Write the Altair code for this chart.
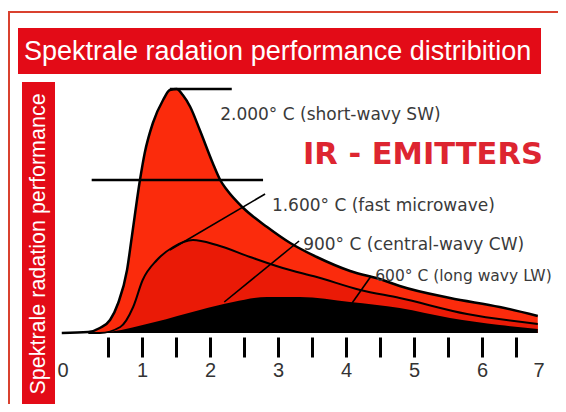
import altair as alt
import pandas as pd

# ---- data (wavelength in µm, relative spectral radiation performance) ----
sw_x = [-0.18, 0.21, 0.38, 0.53, 0.65, 0.78, 0.85, 0.97, 1.04, 1.16, 1.31, 1.41, 1.51, 1.60,
        1.71, 1.85, 2.04, 2.15, 2.25, 2.49, 2.84, 3.18, 3.57, 4.06, 4.54, 4.79, 5.53, 6.26, 6.82]
sw_y = [0, 0.4, 2.0, 5.2, 12, 25.2, 38.4, 61.2, 72, 84, 93.2, 97.2, 97.6, 95.2,
        90.4, 81.2, 68, 61.2, 57.2, 50, 42.4, 36, 30.4, 24.8, 21.2, 18.8, 14, 10.4, 6.8]

mw_x = [0.21, 0.38, 0.68, 0.87, 1.01, 1.22, 1.46, 1.75, 2.10, 2.59, 3.07, 3.57, 4.21, 4.79, 5.78, 6.82]
mw_y = [0, 0, 2.4, 10.4, 21.2, 29.2, 34.4, 37.2, 35.2, 30.4, 26, 22.4, 17.2, 14, 7.6, 3.6]

lw_x = [0.24, 0.53, 1.19, 1.85, 2.34, 2.84, 3.32, 4.06, 4.79, 5.53, 6.26, 6.82]
lw_y = [0, 0.5, 4.4, 9.2, 12.4, 14.4, 14.4, 12.4, 10, 6, 3.2, 1.6]

# horizontal guide lines (peak and width marker): x1, x2, y
hline_x1 = [1.41, 0.26]
hline_x2 = [2.32, 2.78]
hline_y = [97.6, 61.2]

# leader lines from the labels to the curves: x1, y1, x2, y2
leader_x1 = [2.81, 3.31, 4.37]
leader_y1 = [55.6, 36.8, 22.8]
leader_x2 = [1.41, 2.21, 4.09]
leader_y2 = [33.2, 12.4, 12.0]

label_text = ["2.000° C (short-wavy SW)", "1.600° C (fast microwave)",
              "900° C (central-wavy CW)"]
label_x = [2.15, 2.91, 3.37]
label_y = [87.2, 50.8, 35.2]

lw_label_text = ["600° C (long wavy LW)"]
lw_label_x = [4.43]
lw_label_y = [22.8]

tick_values = [i * 0.5 for i in range(15)]

title_txt = "Spektrale radation performance distribition"
ylabel_txt = "Spektrale radation performance"
emitters_txt = "IR - EMITTERS"

RED = "#e30b17"

xscale = alt.Scale(domain=[-0.9706, 7.1176], nice=False, zero=False)
yscale = alt.Scale(domain=[0, 130], nice=False, zero=True)

xaxis = alt.Axis(
    values=tick_values, domain=False, grid=False, offset=4, tickSize=20, tickWidth=3,
    tickColor="black",
    tickOpacity={"condition": {"test": "datum.value == 0 || datum.value == 7", "value": 0}, "value": 1},
    labelExpr="datum.value % 1 === 0 ? format(datum.value, 'd') : ''",
    labelFont="Liberation Sans", labelFontSize=20, labelColor="#333333", labelPadding=3,
    labelOffset={"condition": {"test": "datum.value == 0 || datum.value == 7", "value": -11.5}, "value": 0},
    labelOverlap=False, title=None,
)


def X(field="x"):
    return alt.X(f"{field}:Q", scale=xscale, axis=xaxis)


def Y(field="y"):
    return alt.Y(f"{field}:Q", scale=yscale, axis=None)


one = pd.DataFrame({"k": [0]})

frame_top = alt.Chart(one).mark_rule(color="#d9412f", strokeWidth=2).encode(
    x=alt.value(0), x2=alt.value(550), y=alt.value(4))
frame_left = alt.Chart(one).mark_rule(color="#d9412f", strokeWidth=2).encode(
    x=alt.value(1), y=alt.value(4), y2=alt.value(396))
title_rect = alt.Chart(one).mark_rect(color=RED).encode(
    x=alt.value(10), x2=alt.value(533), y=alt.value(20), y2=alt.value(66))
title_text = alt.Chart(one).mark_text(
    text=title_txt, align="left", baseline="alphabetic", font="Liberation Sans",
    fontSize=27, color="white").encode(x=alt.value(16), y=alt.value(52))
ylab_rect = alt.Chart(one).mark_rect(color=RED).encode(
    x=alt.value(14), x2=alt.value(47), y=alt.value(74), y2=alt.value(397))
ylab_text = alt.Chart(one).mark_text(
    text=ylabel_txt, angle=270, align="center", baseline="middle", font="Liberation Sans",
    fontSize=21.5, color="white").encode(x=alt.value(30.5), y=alt.value(236))

sw = alt.Chart(pd.DataFrame({"x": sw_x, "y": sw_y})).mark_area(
    color="#fb2b0c", opacity=1, fillOpacity=1, interpolate="monotone",
    line={"color": "black", "strokeWidth": 2.5}).encode(x=X(), y=Y())
mw = alt.Chart(pd.DataFrame({"x": mw_x, "y": mw_y})).mark_area(
    color="#ea1a06", opacity=1, fillOpacity=1, interpolate="monotone",
    line={"color": "black", "strokeWidth": 2}).encode(x=X(), y=Y())
lw = alt.Chart(pd.DataFrame({"x": lw_x, "y": lw_y})).mark_area(
    color="black", opacity=1, fillOpacity=1, interpolate="monotone").encode(x=X(), y=Y())

hlines = alt.Chart(pd.DataFrame({"x": hline_x1, "x2": hline_x2, "y": hline_y})).mark_rule(
    color="black", strokeWidth=2.5).encode(x=X(), x2="x2:Q", y=Y())

leaders = alt.Chart(pd.DataFrame({"x": leader_x1, "y": leader_y1, "x2": leader_x2,
                                  "y2": leader_y2})).mark_rule(color="black", strokeWidth=1.6).encode(
    x=X(), y=Y(), x2="x2:Q", y2="y2:Q")

labels = alt.Chart(pd.DataFrame({"x": label_x, "y": label_y, "t": label_text})).mark_text(
    align="left", baseline="middle", font="DejaVu Sans", fontSize=17, color="#3a3a3a"
).encode(x=X(), y=Y(), text="t:N")

lw_label = alt.Chart(pd.DataFrame({"x": lw_label_x, "y": lw_label_y, "t": lw_label_text})).mark_text(
    align="left", baseline="middle", font="DejaVu Sans", fontSize=15.5, color="#3a3a3a"
).encode(x=X(), y=Y(), text="t:N")

emitters = alt.Chart(one).mark_text(
    text=emitters_txt, align="left", baseline="middle", font="DejaVu Sans",
    fontWeight="bold", fontSize=30.5, color="#dd2530").encode(x=alt.value(295), y=alt.value(147))

chart = alt.layer(
    frame_top, frame_left, title_rect, title_text, ylab_rect, ylab_text,
    sw, mw, lw, hlines, leaders, labels, lw_label, emitters,
).properties(
    width=550, height=325,
    autosize=alt.AutoSizeParams(type="none"),
    padding={"left": 0, "top": 0, "right": 0, "bottom": 71},
    background="white",
).configure_view(strokeWidth=0)

chart.save("out.html", embed_options={"renderer": "svg", "actions": False})
